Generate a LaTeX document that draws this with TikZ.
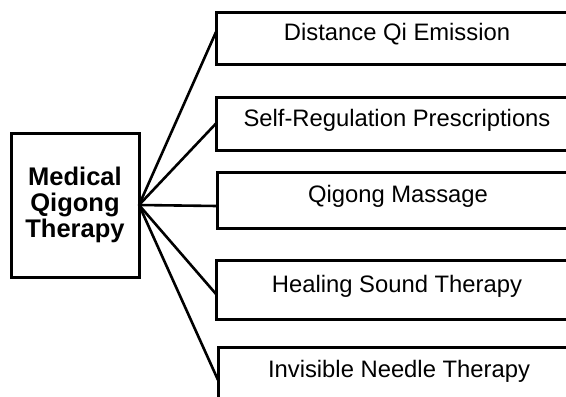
\documentclass[tikz,border=0pt]{standalone}
\usepackage{fontspec}
\setmainfont{Liberation Sans}
\begin{document}
\begin{tikzpicture}[x=1pt,y=-1pt,
  box/.style={draw, line width=3pt, outer sep=0pt, inner sep=0pt},
  item/.style={box, anchor=north west, minimum width=362pt,
    font=\fontsize{23.8}{28}\selectfont, text height=0.75em, text depth=0.25em},
  link/.style={line width=2.6pt}]
\useasboundingbox (0,0) rectangle (566,397);
\clip (0,0) rectangle (566,397);

% root box
\node[box, minimum width=128pt, minimum height=144pt, align=center,
  font=\bfseries\fontsize{25.5}{26}\selectfont] (root) at (75,205)
  {Medical\\Qigong\\Therapy};

% therapy boxes (open to the right)
\node[item, minimum height=52pt] (d1) at (216,12)  {Distance Qi Emission};
\node[item, minimum height=53pt] (d2) at (216,97)  {Self-Regulation Prescriptions};
\node[item, minimum height=56pt] (d3) at (217,172) {Qigong Massage};
\node[item, minimum height=59pt] (d4) at (216,260) {Healing Sound Therapy};
\node[item, minimum height=55pt] (d5) at (218,347) {Invisible Needle Therapy};

% connectors
\draw[link] (root.east) -- ([yshift=6pt]d1.west);
\draw[link] (root.east) -- (d2.west);
\draw[link] (root.east) -- ([yshift=-6pt]d3.west);
\draw[link] (root.east) -- ([yshift=-4.5pt]d4.west);
\draw[link] (root.east) -- ([yshift=-5.5pt]d5.west);
\end{tikzpicture}
\end{document}
